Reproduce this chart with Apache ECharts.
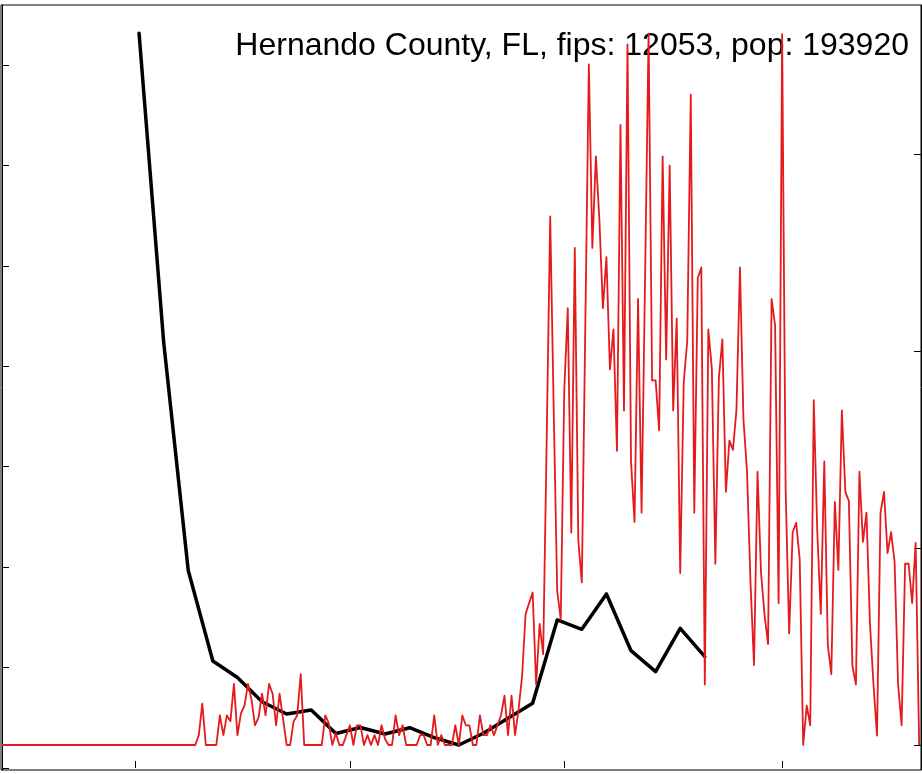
<!DOCTYPE html>
<html>
<head>
<meta charset="utf-8">
<script src="https://cdn.jsdelivr.net/npm/echarts@6/dist/echarts.min.js"></script>
<style>
html,body{margin:0;padding:0;background:#fff;}
#chart{width:922px;height:774px;}
</style>
</head>
<body>
<div id="chart"></div>
<script>
// Title text
const titleText = 'Hernando County, FL, fips: 12053, pop: 193920';

// Daily values (right axis), one per day starting at day 0
const dailyValues = [
  // days 0-55
  0,0,0,0,0,0,0,0,0,0, 0,0,0,0,0,0,0,0,0,0,
  0,0,0,0,0,0,0,0,0,0, 0,0,0,0,0,0,0,0,0,0,
  0,0,0,0,0,0,0,0,0,0, 0,0,0,0,0,0,
  // days 56-101
  0.05,0.21,0,0,0,0,0.15,0.05,0.15,0.12,
  0.31,0.05,0.16,0.2,0.31,0.23,0.1,0.14,0.26,0.15,
  0.31,0.26,0.1,0.26,0.13,0,0,0.12,0.15,0.36,
  0,0,0,0,0,0,0.15,0.11,0,0.06,
  0,0,0.05,0.1,0,0.1,
  // days 102-148
  0.1,0,0.05,0,0.05,0,0.1,0.03,0,0,
  0.15,0.05,0.1,0,0,0,0,0.05,0.05,0,
  0,0.15,0,0.05,0,0,0,0.1,0,0.15,
  0.1,0.1,0,0,0.15,0.05,0.05,0.1,0.05,0.1,
  0.15,0.25,0.05,0.25,0.05,0.18,0.35,
  // days 149-184
  0.665,0.72,0.774,0.307,0.614,0.46,1.55,2.683,1.7,0.779,
  0.637,1.8,2.217,1.078,2.523,1.038,0.825,2.14,3.454,2.523,
  2.988,2.665,2.217,2.476,1.906,2.11,1.493,3.148,1.698,3.556,
  1.439,1.132,2.264,1.179,2.37,3.61,
  // days 185-221
  1.851,1.851,1.597,2.988,1.957,2.941,1.698,2.165,0.873,1.84,
  2.052,3.301,1.179,2.37,2.424,0.307,2.11,1.91,0.92,1.863,
  2.059,1.285,1.545,1.498,1.698,2.424,1.651,1.392,0.826,0.406,
  1.387,0.873,0.66,0.512,2.264,2.13,0.72,
  // days 222-261
  3.608,1.297,0.566,1.08,1.128,0.944,0,0.2,0.1,1.75,
  1.085,0.665,1.439,0.507,0.359,1.234,0.889,1.698,1.285,1.238,
  0.401,0.307,1.387,1.031,1.179,0.614,0.307,0.048,1.179,1.285,
  0.974,1.08,0.932,0.307,0.1,0.92,0.92,0.72,1.026,0
];

// Weekly values (left axis)
const weeklyDays = [39,46,53,60,67,74,81,88,95,102,109,116,123,130,137,144,151,158,165,172,179,186,193,200];
const weeklyValues = [7.316,4.243,1.967,1.065,0.901,0.66,0.538,0.578,0.344,0.403,0.339,0.401,0.302,0.229,0.346,0.495,0.644,1.474,1.381,1.733,1.168,0.959,1.391,1.108];

// Tick positions
const xTicks = [38, 99, 160, 222];
const leftTicks = [0,1,2,3,4,5,6,7];
const rightTicks = [0,1,2,3];

const chart = echarts.init(document.getElementById('chart'), null, {renderer:'canvas'});

const tickStyle = {show:true, inside:true, length:7, lineStyle:{color:'#000', width:1}};

chart.setOption({
  animation: false,
  backgroundColor: '#fff',
  grid: {left:1, top:5, right:1, bottom:4, show:true, borderColor:'#000', borderWidth:1, containLabel:false},
  graphic: [{
    type:'text', z:0, x:909, y:46,
    style:{text:titleText, fill:'#000', font:'32px "Liberation Sans", Arial, sans-serif', align:'right', verticalAlign:'middle'}
  }],
  xAxis: {
    type:'value', min:-0.285, max:261.52,
    axisLine:{show:false},
    axisTick:Object.assign({customValues:xTicks}, tickStyle),
    axisLabel:{show:false}, splitLine:{show:false}
  },
  yAxis: [{
    type:'value', position:'left', min:-0.0199, max:7.597,
    axisLine:{show:true, lineStyle:{color:'#000', width:1}},
    axisTick:Object.assign({customValues:leftTicks}, tickStyle),
    axisLabel:{show:false}, splitLine:{show:false}
  },{
    type:'value', position:'right', min:-0.127, max:3.756,
    axisLine:{show:true, lineStyle:{color:'#000', width:1}},
    axisTick:Object.assign({customValues:rightTicks}, tickStyle),
    axisLabel:{show:false}, splitLine:{show:false}
  }],
  series: [{
    type:'line', yAxisIndex:0, z:2,
    data: weeklyDays.map((d,i)=>[d, weeklyValues[i]]),
    showSymbol:false, symbol:'none',
    lineStyle:{color:'#000', width:3.5, cap:'round', join:'round'}
  },{
    type:'line', yAxisIndex:1, z:3,
    data: dailyValues.map((v,i)=>[i, v]),
    showSymbol:false, symbol:'none',
    lineStyle:{color:'#e41a1c', width:1.8, join:'round'}
  }]
});
</script>
</body>
</html>
